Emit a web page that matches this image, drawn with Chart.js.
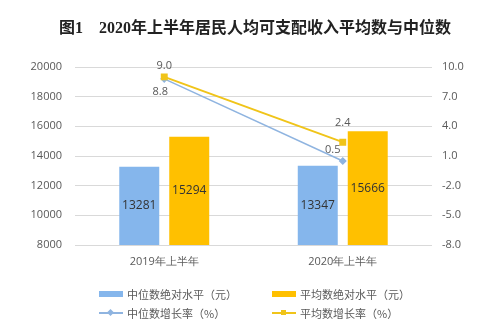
<!DOCTYPE html>
<html>
<head>
<meta charset="utf-8">
<script src="https://cdn.jsdelivr.net/npm/chart.js@4/dist/chart.umd.min.js"></script>
<style>
  body { margin: 0; background: #fff; }
  #wrap { position: relative; width: 499px; height: 327px; }
  #title { position: absolute; left: 0; top: 14px; width: 510px; text-align: center;
    font: bold 16px "Liberation Serif", "Noto Sans CJK SC", serif; color: #222; white-space: pre; }
  .leg { position: absolute; font: 11px "Noto Sans CJK SC", sans-serif; color: #595959; white-space: nowrap; }
  .sym { position: absolute; }
</style>
</head>
<body>
<div id="wrap">
  <canvas id="myChart" width="499" height="327"></canvas>
  <div id="title">图1    2020年上半年居民人均可支配收入平均数与中位数</div>
  <div id="legend"></div>
</div>
<script>
const categories = ['2019年上半年', '2020年上半年'];
const medianLevel = [13281, 13347];
const meanLevel = [15294, 15666];
const medianGrowth = [8.8, 0.5];
const meanGrowth = [9.0, 2.4];
const seriesNames = ['中位数绝对水平（元）', '平均数绝对水平（元）', '中位数增长率（%）', '平均数增长率（%）'];

const blue = '#85b6ec';
const yellow = '#ffc000';
const blueLine = '#8fb4e0';
const yellowLine = '#f0c419';

// draws value labels
const labelPlugin = {
    id: 'labels',
    afterDatasetsDraw(chart) {
        const ctx = chart.ctx;
        const bottom = chart.chartArea.bottom;
        ctx.save();
        ctx.textAlign = 'center';
        ctx.textBaseline = 'middle';
        chart.data.datasets.forEach(function(ds, i) {
            const meta = chart.getDatasetMeta(i);
            meta.data.forEach(function(el, j) {
                if (ds.type === 'line') {
                    const off = ds.labelOffsets[j];
                    ctx.fillStyle = '#595959';
                    ctx.font = '11px "Open Sans", sans-serif';
                    ctx.fillText(ds.data[j].toFixed(1), el.x + off[0], el.y + off[1]);
                } else {
                    ctx.fillStyle = '#333';
                    ctx.font = '12px "Open Sans", sans-serif';
                    ctx.fillText(String(ds.data[j]), el.x, (el.y + bottom) / 2);
                }
            });
        });
        ctx.restore();
    }
};

const data = {
    labels: categories,
    datasets: [
        {
            type: 'line',
            label: seriesNames[3],
            data: meanGrowth,
            yAxisID: 'y1',
            borderColor: yellowLine,
            backgroundColor: yellowLine,
            borderWidth: 2,
            pointStyle: 'rect',
            pointRadius: 3.5,
            order: 0,
            labelOffsets: [[0, -11], [0, -19]]
        },
        {
            type: 'line',
            label: seriesNames[2],
            data: medianGrowth,
            yAxisID: 'y1',
            borderColor: blueLine,
            backgroundColor: blueLine,
            borderWidth: 1.5,
            pointStyle: 'rectRot',
            pointRadius: 3,
            order: 1,
            labelOffsets: [[-4, 13], [-10, -11]]
        },
        {
            type: 'bar',
            label: seriesNames[0],
            data: medianLevel,
            yAxisID: 'y',
            backgroundColor: blue,
            order: 2
        },
        {
            type: 'bar',
            label: seriesNames[1],
            data: meanLevel,
            yAxisID: 'y',
            backgroundColor: yellow,
            order: 3
        }
    ]
};

const tickFont = { family: '"Open Sans", sans-serif', size: 11 };

const config = {
    type: 'bar',
    data: data,
    options: {
        responsive: false,
        animation: false,
        layout: { padding: { top: 67, left: 0, right: 0, bottom: 0 } },
        datasets: {
            bar: { categoryPercentage: 0.56, barPercentage: 0.8, grouped: true }
        },
        plugins: {
            legend: { display: false },
            tooltip: { enabled: false }
        },
        scales: {
            x: {
                grid: { display: false },
                border: { display: false },
                ticks: { color: '#595959', font: tickFont, padding: 2 },
                afterFit(s) { s.height = 82; }
            },
            y: {
                position: 'left',
                min: 8000,
                max: 20000,
                ticks: {
                    stepSize: 2000,
                    color: '#595959',
                    font: tickFont,
                    padding: 13,
                    callback: function(v) { return String(v); }
                },
                grid: { color: '#d9d9d9', drawTicks: false },
                border: { display: false },
                afterFit(s) { s.width = 75; }
            },
            y1: {
                position: 'right',
                min: -8,
                max: 10,
                ticks: {
                    stepSize: 3,
                    color: '#595959',
                    font: tickFont,
                    padding: 10,
                    callback: function(v) { return v.toFixed(1); }
                },
                grid: { display: false, drawTicks: false },
                border: { display: false },
                afterFit(s) { s.width = 67; }
            }
        }
    },
    plugins: [labelPlugin]
};

const myChart = new Chart(document.getElementById('myChart'), config);

// legend below the chart
const legend = document.getElementById('legend');
const items = [
    { name: seriesNames[0], kind: 'bar', color: blue, x: 99, y: 294 },
    { name: seriesNames[1], kind: 'bar', color: yellow, x: 272, y: 294 },
    { name: seriesNames[2], kind: 'line', color: blueLine, marker: 'diamond', x: 99, y: 313 },
    { name: seriesNames[3], kind: 'line', color: yellowLine, marker: 'square', x: 272, y: 313 }
];
items.forEach(function(it) {
    if (it.kind === 'bar') {
        const s = document.createElement('div');
        s.className = 'sym';
        s.style.cssText = 'left:' + it.x + 'px;top:' + (it.y - 3) + 'px;width:24px;height:6px;background:' + it.color;
        legend.appendChild(s);
    } else {
        const l = document.createElement('div');
        l.className = 'sym';
        l.style.cssText = 'left:' + it.x + 'px;top:' + (it.y - 1) + 'px;width:24px;height:1.5px;background:' + it.color;
        legend.appendChild(l);
        const m = document.createElement('div');
        m.className = 'sym';
        const rot = it.marker === 'diamond' ? 'transform:rotate(45deg);' : '';
        m.style.cssText = 'left:' + (it.x + 9) + 'px;top:' + (it.y - 3.5) + 'px;width:5px;height:5px;' + rot + 'background:' + it.color;
        legend.appendChild(m);
    }
    const t = document.createElement('div');
    t.className = 'leg';
    t.style.left = (it.x + 28) + 'px';
    t.style.top = (it.y - 8) + 'px';
    t.textContent = it.name;
    legend.appendChild(t);
});
</script>
</body>
</html>
